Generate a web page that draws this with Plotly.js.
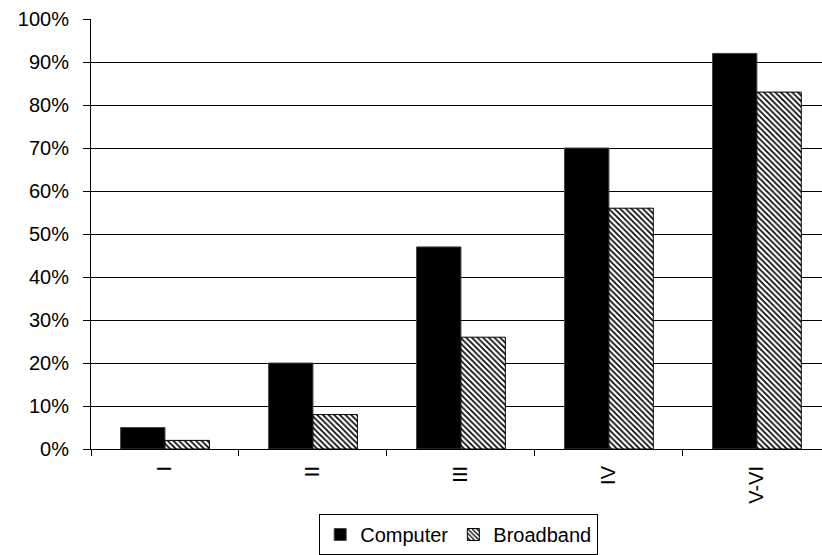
<!DOCTYPE html>
<html>
<head>
<meta charset="utf-8">
<script src="https://cdn.plot.ly/plotly-3.0.1.min.js"></script>
<style>
  html, body { margin: 0; padding: 0; background: #fff; }
  #chart { width: 822px; height: 555px; }
</style>
</head>
<body>
<div id="chart"></div>
<script>
// Share of households with a computer / broadband, by group
const categories = ['I', 'II', 'III', 'IV', 'V-VI'];
const computer = [5, 20, 47, 70, 92];
const broadband = [2, 8, 26, 56, 83];
const yTicks = [0, 10, 20, 30, 40, 50, 60, 70, 80, 90, 100];
const yTickText = yTicks.map(v => v + '%');

const font = { family: '"Liberation Sans", Arial, sans-serif', size: 20, color: '#000' };

const traces = [
  {
    type: 'bar',
    name: 'Computer',
    x: categories,
    y: computer,
    marker: { color: '#000', line: { color: '#444', width: 1 } },
    hoverinfo: 'x+y'
  },
  {
    type: 'bar',
    name: 'Broadband',
    x: categories,
    y: broadband,
    marker: {
      color: '#fff',
      line: { color: '#000', width: 1 },
      pattern: { shape: '\\', fgcolor: '#000', bgcolor: '#fff', size: 4, solidity: 0.4 }
    },
    hoverinfo: 'x+y'
  }
];

const layout = {
  width: 822,
  height: 555,
  margin: { l: 91, r: 0, t: 19, b: 103, pad: 0 },
  paper_bgcolor: '#fff',
  plot_bgcolor: '#fff',
  font: font,
  barmode: 'group',
  bargap: 0.4,
  bargroupgap: 0,
  showlegend: true,
  xaxis: {
    type: 'category',
    range: [-0.5, 4.44],
    tickangle: -90,
    ticks: 'outside',
    tickson: 'boundaries',
    ticklen: 6,
    tickwidth: 1,
    tickcolor: '#000',
    ticklabelstandoff: 8,
    showline: true,
    linecolor: '#000',
    linewidth: 1,
    showgrid: false,
    zeroline: false,
    tickfont: font
  },
  yaxis: {
    range: [0, 100],
    tickmode: 'array',
    tickvals: yTicks,
    ticktext: yTickText,
    ticks: 'outside',
    ticklen: 7,
    tickwidth: 1,
    tickcolor: '#000',
    ticklabelstandoff: 10,
    showline: true,
    linecolor: '#000',
    linewidth: 1,
    showgrid: true,
    gridcolor: '#000',
    gridwidth: 1,
    zeroline: false,
    tickfont: font
  },
  legend: {
    orientation: 'h',
    x: 0.503,
    xanchor: 'center',
    y: -0.152,
    yanchor: 'top',
    bordercolor: '#000',
    borderwidth: 1,
    bgcolor: '#fff',
    itemwidth: 30,
    font: font
  }
};

Plotly.newPlot('chart', traces, layout, { displayModeBar: false, staticPlot: true });
</script>
</body>
</html>
